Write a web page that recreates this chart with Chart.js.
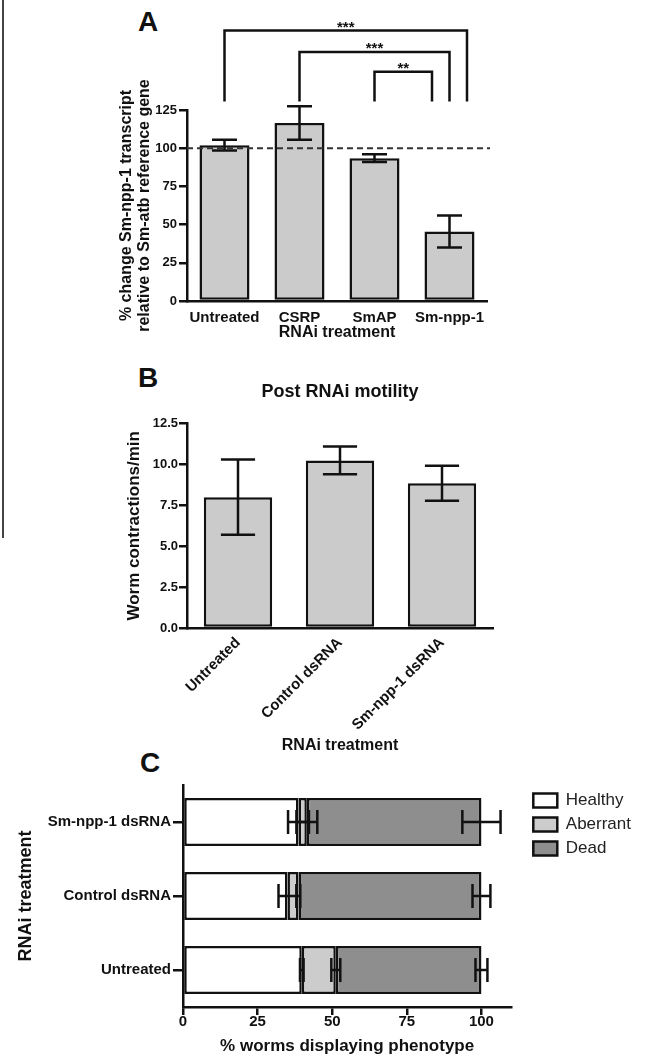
<!DOCTYPE html>
<html>
<head>
<meta charset="utf-8">
<script src="https://cdn.jsdelivr.net/npm/chart.js@4.4.1/dist/chart.umd.min.js"></script>
<style>
    body {
        margin: 0;
        background: #fff;
        width: 650px;
        height: 1059px;
        position: relative;
        overflow: hidden;
        font-family: "Liberation Sans", Arial, sans-serif;
    }
    .panel { position: absolute; left: 0; width: 650px; }
    .letter { position: absolute; font-weight: bold; font-size: 28px; line-height: 28px; color: #111; }
    .frame { position: absolute; left: 2px; top: 0; height: 538px; border-left: 2px solid #444; }
</style>
</head>
<body>
<div class="frame"></div>
<div class="letter" style="left:138px; top:8px;">A</div>
<div class="letter" style="left:138px; top:364px;">B</div>
<div class="letter" style="left:140px; top:749px;">C</div>

<div class="panel" style="top:0; height:345px;"><canvas id="chartA"></canvas></div>
<div class="panel" style="top:345px; height:410px;"><canvas id="chartB"></canvas></div>
<div class="panel" style="top:755px; height:304px;"><canvas id="chartC"></canvas></div>

<script>
// ---- panel A : transcript levels
const labelsA = ["Untreated", "CSRP", "SmAP", "Sm-npp-1"];
const transcriptA = [102, 116.5, 93.5, 45.5];
const transcriptErrA = [3.5, 11, 2.5, 10.5];
const refLevelA = 100;
const sigFrom = [0, 1, 2];
const sigTo = [3, 3, 3];
const sigText = ["***", "***", "**"];

// ---- panel B : motility
const labelsB = ["Untreated", "Control dsRNA", "Sm-npp-1 dsRNA"];
const motilityB = [8.0, 10.25, 8.85];
const motilityErrB = [2.3, 0.85, 1.07];

// ---- panel C : phenotypes (top row first)
const labelsC = ["Sm-npp-1 dsRNA", "Control dsRNA", "Untreated"];
const healthyC = [38.7, 35.0, 39.8];
const aberrantC = [2.8, 3.7, 11.4];
const deadC = [58.5, 61.3, 48.8];
const healthyErrC = [3.5, 3.0, 0.6];
const aberrantErrC = [3.5, 0.6, 1.5];
const deadErrC = [6.4, 3.0, 2.0];

Chart.defaults.font.family = "'Liberation Sans', Arial, sans-serif";
Chart.defaults.color = "#111";
Chart.defaults.animation = false;

const INK = "#111";
const BAR_GREY = "#cbcbcb";

function boldFont(size, lh) {
    return {size: size, weight: "bold", lineHeight: lh || 1.2};
}

// error bars, drawn at the end of each (stacked) bar
function makeErrorBars(errors) {
    return {
        id: "errorBars",
        afterDatasetsDraw(chart) {
            const ctx = chart.ctx;
            const horizontal = chart.options.indexAxis === "y";
            const vScale = horizontal ? chart.scales.x : chart.scales.y;
            ctx.save();
            ctx.strokeStyle = INK;
            ctx.lineWidth = 2.5;
            chart.data.datasets.forEach((ds, di) => {
                const errs = errors[di];
                if (!errs) return;
                chart.getDatasetMeta(di).data.forEach((bar, j) => {
                    let end = 0;
                    for (let k = 0; k <= di; k++) end += chart.data.datasets[k].data[j];
                    const lo = vScale.getPixelForValue(end - errs[j]);
                    const hi = vScale.getPixelForValue(end + errs[j]);
                    ctx.beginPath();
                    if (horizontal) {
                        const cap = bar.height * 0.25;
                        ctx.moveTo(lo, bar.y); ctx.lineTo(hi, bar.y);
                        ctx.moveTo(lo, bar.y - cap); ctx.lineTo(lo, bar.y + cap);
                        ctx.moveTo(hi, bar.y - cap); ctx.lineTo(hi, bar.y + cap);
                    } else {
                        const cap = bar.width * 0.25;
                        ctx.moveTo(bar.x, lo); ctx.lineTo(bar.x, hi);
                        ctx.moveTo(bar.x - cap, lo); ctx.lineTo(bar.x + cap, lo);
                        ctx.moveTo(bar.x - cap, hi); ctx.lineTo(bar.x + cap, hi);
                    }
                    ctx.stroke();
                });
            });
            ctx.restore();
        }
    };
}

// dashed 100% line + significance brackets for panel A
const refAndBrackets = {
    id: "refAndBrackets",
    afterDraw(chart) {
        const {ctx, chartArea, scales: {x, y}} = chart;
        ctx.save();
        ctx.strokeStyle = "#333";
        ctx.lineWidth = 2;
        ctx.setLineDash([6, 4]);
        const yRef = y.getPixelForValue(refLevelA);
        ctx.beginPath();
        ctx.moveTo(chartArea.left, yRef);
        ctx.lineTo(chartArea.right + 3, yRef);
        ctx.stroke();

        ctx.setLineDash([]);
        ctx.strokeStyle = INK;
        ctx.fillStyle = INK;
        ctx.lineWidth = 2.5;
        ctx.font = "bold 15px 'Liberation Sans', Arial";
        ctx.textAlign = "center";
        ctx.textBaseline = "alphabetic";
        const levels = [177, 163, 150];
        const legBottom = y.getPixelForValue(130.5);
        sigFrom.forEach((a, i) => {
            const x1 = x.getPixelForValue(a);
            const x2 = x.getPixelForValue(sigTo[i]) + (1 - i) * 17.5;
            const top = y.getPixelForValue(levels[i]);
            ctx.beginPath();
            ctx.moveTo(x1, legBottom);
            ctx.lineTo(x1, top);
            ctx.lineTo(x2, top);
            ctx.lineTo(x2, legBottom);
            ctx.stroke();
            ctx.fillText(sigText[i], (x1 + x2) / 2, top + 1);
        });
        ctx.restore();
    }
};

// nudge the legend of panel C away from the plot
const legendGap = {
    id: "legendGap",
    afterLayout(chart) {
        chart.legend.left += 15;
        chart.legend.right += 15;
    }
};

// ////////////////////////////////////////////////////////////////////////
let ctxA = document.getElementById("chartA").getContext("2d");

let chartA = new Chart(ctxA, {
    type: "bar",
    data: {
        labels: labelsA,
        datasets: [
            {
                data: transcriptA,
                backgroundColor: BAR_GREY,
                borderColor: INK,
                borderWidth: 2.5,
                borderSkipped: false,
                categoryPercentage: 1,
                barPercentage: 0.667,
            },
        ],
    },
    options: {
        responsive: true,
        maintainAspectRatio: false,
        layout: {padding: {top: 110, right: 163, bottom: 3, left: 116}},
        plugins: {
            legend: {display: false},
            tooltip: {enabled: false},
        },
        scales: {
            x: {
                grid: {display: false, drawTicks: false},
                border: {color: INK, width: 2.5},
                ticks: {font: boldFont(15), color: INK, padding: 8, autoSkip: false, maxRotation: 0},
                title: {display: true, text: "RNAi treatment", font: boldFont(16), color: INK, padding: 0},
                afterFit: (scale) => { scale.height = 41; },
            },
            y: {
                min: 0,
                max: 125,
                grid: {drawOnChartArea: false, drawTicks: true, tickLength: 8, color: INK, lineWidth: 2.5},
                border: {color: INK, width: 2.5},
                ticks: {stepSize: 25, font: boldFont(13), color: INK, padding: 2},
                title: {
                    display: true,
                    text: ["% change Sm-npp-1 transcript", "relative to Sm-atb reference gene"],
                    font: boldFont(16, 1.125),
                    color: INK,
                    padding: {top: 2, bottom: 0},
                },
                afterFit: (scale) => { scale.width = 71; },
            },
        },
    },
    plugins: [makeErrorBars([transcriptErrA]), refAndBrackets],
});

// ////////////////////////////////////////////////////////////////////////
let ctxB = document.getElementById("chartB").getContext("2d");

let chartB = new Chart(ctxB, {
    type: "bar",
    data: {
        labels: labelsB,
        datasets: [
            {
                data: motilityB,
                backgroundColor: BAR_GREY,
                borderColor: INK,
                borderWidth: 2.5,
                borderSkipped: false,
                categoryPercentage: 1,
                barPercentage: 0.67,
            },
        ],
    },
    options: {
        responsive: true,
        maintainAspectRatio: false,
        layout: {padding: {top: 36, right: 157, bottom: 0, left: 122}},
        plugins: {
            legend: {display: false},
            tooltip: {enabled: false},
            title: {
                display: true,
                text: "Post RNAi motility",
                font: boldFont(18),
                color: INK,
                fullSize: false,
                padding: {top: 0, bottom: 21},
            },
        },
        scales: {
            x: {
                grid: {display: false, drawTicks: false},
                border: {color: INK, width: 2.5},
                ticks: {font: boldFont(15), color: INK, padding: 6, minRotation: 45, maxRotation: 45, autoSkip: false},
                title: {display: true, text: "RNAi treatment", font: boldFont(16), color: INK, padding: 0},
                afterFit: (scale) => { scale.height = 127; },
            },
            y: {
                min: 0,
                max: 12.5,
                grid: {drawOnChartArea: false, drawTicks: true, tickLength: 8, color: INK, lineWidth: 2.5},
                border: {color: INK, width: 2.5},
                ticks: {
                    stepSize: 2.5,
                    font: boldFont(13),
                    color: INK,
                    padding: 1,
                    callback: (v) => Number(v).toFixed(1),
                },
                title: {display: true, text: "Worm contractions/min", font: boldFont(17), color: INK, padding: {top: 2, bottom: 0}},
                afterFit: (scale) => { scale.width = 65; },
            },
        },
    },
    plugins: [makeErrorBars([motilityErrB])],
});

// ////////////////////////////////////////////////////////////////////////
let ctxC = document.getElementById("chartC").getContext("2d");

let chartC = new Chart(ctxC, {
    type: "bar",
    data: {
        labels: labelsC,
        datasets: [
            {
                label: "Healthy",
                data: healthyC,
                backgroundColor: "#ffffff",
                borderColor: INK,
                borderWidth: 2.5,
                borderSkipped: false,
            },
            {
                label: "Aberrant",
                data: aberrantC,
                backgroundColor: "#cccccc",
                borderColor: INK,
                borderWidth: 2.5,
                borderSkipped: false,
            },
            {
                label: "Dead",
                data: deadC,
                backgroundColor: "#8e8e8e",
                borderColor: INK,
                borderWidth: 2.5,
                borderSkipped: false,
            },
        ],
    },
    options: {
        indexAxis: "y",
        responsive: true,
        maintainAspectRatio: false,
        datasets: {bar: {categoryPercentage: 1, barPercentage: 0.65}},
        layout: {padding: {top: 30, right: 24, bottom: 0, left: 13}},
        plugins: {
            tooltip: {enabled: false},
            legend: {
                position: "right",
                align: "start",
                labels: {
                    boxWidth: 24,
                    boxHeight: 14,
                    padding: 7,
                    color: "#222",
                    font: {size: 17, weight: "normal"},
                },
            },
        },
        scales: {
            x: {
                stacked: true,
                min: 0,
                max: 110,
                grid: {drawOnChartArea: false, drawTicks: true, tickLength: 8, color: INK, lineWidth: 2.5},
                border: {color: INK, width: 2.5},
                ticks: {stepSize: 25, includeBounds: false, font: boldFont(15), color: INK, padding: -2},
                title: {display: true, text: "% worms displaying phenotype", font: boldFont(17), color: INK, padding: {top: 0, bottom: 2}},
                afterFit: (scale) => { scale.height = 52; },
            },
            y: {
                stacked: true,
                grid: {drawOnChartArea: false, drawTicks: true, tickLength: 10, offset: false, color: INK, lineWidth: 2.5},
                border: {color: INK, width: 2.5},
                ticks: {font: boldFont(15), color: INK, padding: 2},
                title: {display: true, text: "RNAi treatment", font: boldFont(18), color: INK, padding: {top: 2, bottom: 0}},
                afterFit: (scale) => { scale.width = 170; },
            },
        },
    },
    plugins: [makeErrorBars([healthyErrC, aberrantErrC, deadErrC]), legendGap],
});
</script>
</body>
</html>
